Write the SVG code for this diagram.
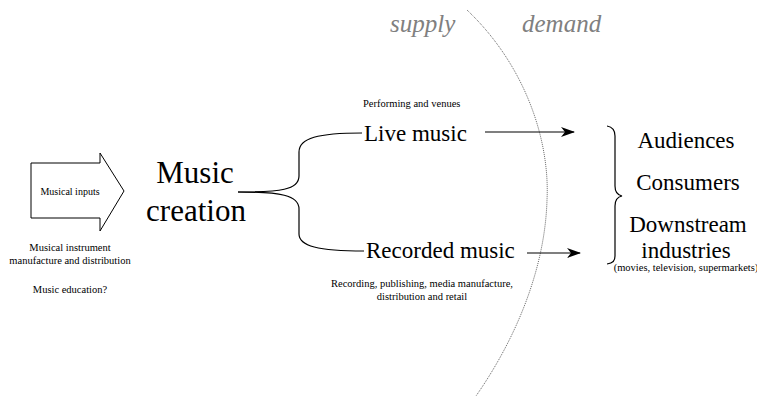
<svg xmlns="http://www.w3.org/2000/svg" width="757" height="396" viewBox="0 0 757 396">
<style>
text{font-family:"Liberation Serif","Times New Roman",serif;fill:#000}
.sm{font-size:10.5px}
.md{font-size:23px}
.lg{font-size:31px}
.it{font-size:25px;font-style:italic;fill:#808080}
.ln{fill:none;stroke:#000;stroke-width:1.2}
</style>
<defs>
<marker id="ah" markerWidth="14" markerHeight="10" refX="13" refY="5" orient="auto" markerUnits="userSpaceOnUse">
<path d="M0,0 L14,5 L0,10 L4,5 z" fill="#000"/>
</marker>
</defs>
<g id="divider">
<path d="M467,10 C525,65 550,140 547,200 C545,270 515,340 476,396" fill="none" stroke="#666" stroke-width="1" stroke-dasharray="1 1"/>
<text class="it" x="390" y="32">supply</text>
<text class="it" x="522" y="32">demand</text>
</g>
<g id="inputs">
<path d="M31,163 L100,163 L100,153 L124,191 L100,231 L100,218 L31,218 Z" fill="#fff" stroke="#000" stroke-width="1"/>
<text x="70" y="195" text-anchor="middle" font-size="10">Musical inputs</text>
<text class="sm" x="70" y="251" text-anchor="middle">Musical instrument</text>
<text class="sm" x="70" y="264" text-anchor="middle">manufacture and distribution</text>
<text class="sm" x="70" y="293" text-anchor="middle">Music education?</text>
</g>
<g id="creation">
<text class="lg" x="195" y="183" text-anchor="middle">Music</text>
<text class="lg" x="196" y="221" text-anchor="middle">creation</text>
</g>
<g id="live">
<text class="sm" x="363" y="107">Performing and venues</text>
<text class="md" x="364" y="141">Live music</text>
</g>
<g id="recorded">
<text class="md" x="366" y="258">Recorded music</text>
<text class="sm" x="422" y="287" text-anchor="middle">Recording, publishing, media manufacture,</text>
<text class="sm" x="422" y="300" text-anchor="middle">distribution and retail</text>
</g>
<g id="demand-side">
<path class="ln" d="M607,126 C613,127 615,130 615,136 L615,186 C615,192 617,195 622,196 C617,197 615,200 615,206 L615,256 C615,261 613,263 607,264"/>
<text class="md" x="686" y="148" text-anchor="middle">Audiences</text>
<text class="md" x="688" y="190" text-anchor="middle">Consumers</text>
<text class="md" x="688" y="232" text-anchor="middle">Downstream</text>
<text class="md" x="686" y="258" text-anchor="middle">industries</text>
<text class="sm" x="686" y="271" text-anchor="middle">(movies, television, supermarkets)</text>
</g>
<g id="connectors">
<path class="ln" d="M238,192 C280,192 299,190 299,176 L299,152 C299,138 318,133 362,133"/>
<path class="ln" d="M238,192 C280,192 299,195 299,209 L299,234 C299,246 318,251 364,251"/>
<line class="ln" x1="485" y1="132" x2="574" y2="132" marker-end="url(#ah)"/>
<line class="ln" x1="527" y1="253" x2="580" y2="253" marker-end="url(#ah)"/>
</g>
</svg>
